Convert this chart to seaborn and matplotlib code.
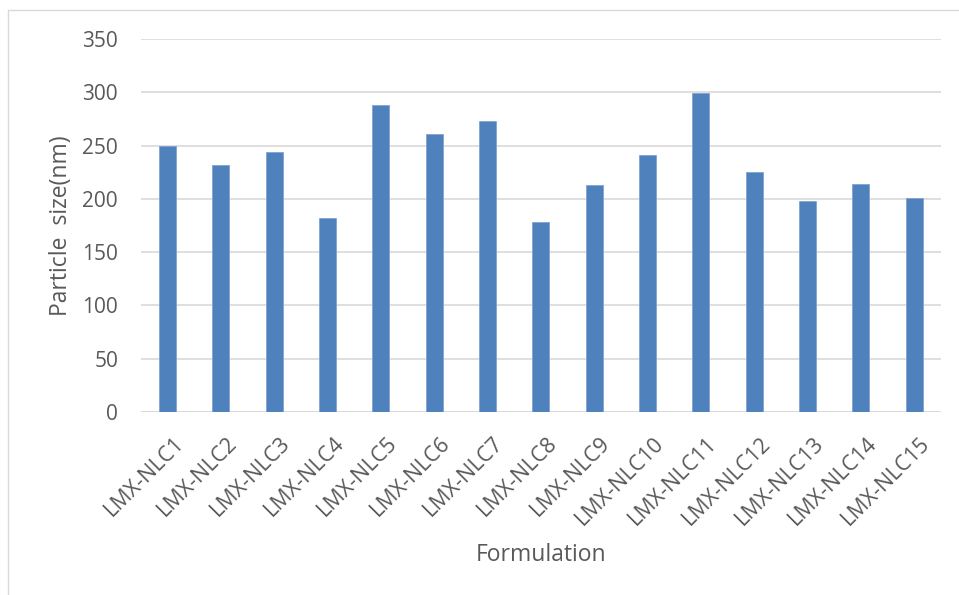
import matplotlib
matplotlib.use("Agg")
import matplotlib.pyplot as plt
import matplotlib.transforms as mtransforms
import seaborn as sns
import pandas as pd
from matplotlib.lines import Line2D

formulations = [f"LMX-NLC{i}" for i in range(1, 16)]
particle_size = [250.0, 231.5, 244.0, 182.0, 288.0, 261.0, 273.0, 178.3,
                 213.0, 241.2, 299.2, 224.9, 197.7, 213.7, 200.5]
y_ticks = [0, 50, 100, 150, 200, 250, 300, 350]

df = pd.DataFrame({"Formulation": formulations, "Particle size": particle_size})

sns.set_theme(style="white")
plt.rcParams["font.family"] = ["Open Sans", "DejaVu Sans"]

text_color = "#595959"
grid_color = "#D9D9D9"
bar_color = "#4F81BD"

fig = plt.figure(figsize=(9.59, 5.95), dpi=100)
ax = fig.add_axes([0.147, 0.3076, 0.834, 0.6266])

sns.barplot(data=df, x="Formulation", y="Particle size", color=bar_color,
            width=0.32, edgecolor="#7FA3D3", linewidth=0.6, saturation=1,
            ax=ax, zorder=3)

ax.set_ylim(0, 350)
ax.set_xlim(-0.5, len(formulations) - 0.5)
ax.set_yticks(y_ticks)
ax.set_yticklabels([str(v) for v in y_ticks], fontsize=15, color=text_color)
ax.tick_params(axis="y", length=0, pad=16.5)
ax.tick_params(axis="x", length=0, pad=15)
shift = mtransforms.ScaledTranslation(4 / 72, 0, fig.dpi_scale_trans)
for lbl in ax.get_xticklabels():
    lbl.set_rotation(45)
    lbl.set_ha("right")
    lbl.set_rotation_mode("anchor")
    lbl.set_fontsize(15.5)
    lbl.set_color(text_color)
    lbl.set_transform(lbl.get_transform() + shift)

ax.yaxis.grid(True, color=grid_color, linewidth=1.2, zorder=0)
ax.set_axisbelow(True)
for side in ["top", "right", "left", "bottom"]:
    ax.spines[side].set_visible(False)
ax.axhline(0, color=grid_color, linewidth=1.2, zorder=2)

ax.set_ylabel("Particle  size(nm)", fontsize=16.5, color=text_color)
ax.yaxis.set_label_coords(-0.085, 0.5)
ax.set_xlabel("Formulation", fontsize=16.5, color=text_color)
ax.xaxis.set_label_coords(0.5, -0.352)

# chart frame (left and top edges)
fig.add_artist(Line2D([8 / 959, 8 / 959], [0, 1 - 10 / 595],
                      transform=fig.transFigure, color="#D9D9D9", linewidth=1))
fig.add_artist(Line2D([8 / 959, 1], [1 - 10 / 595, 1 - 10 / 595],
                      transform=fig.transFigure, color="#D9D9D9", linewidth=1))

fig.savefig("out.png", dpi=100)
